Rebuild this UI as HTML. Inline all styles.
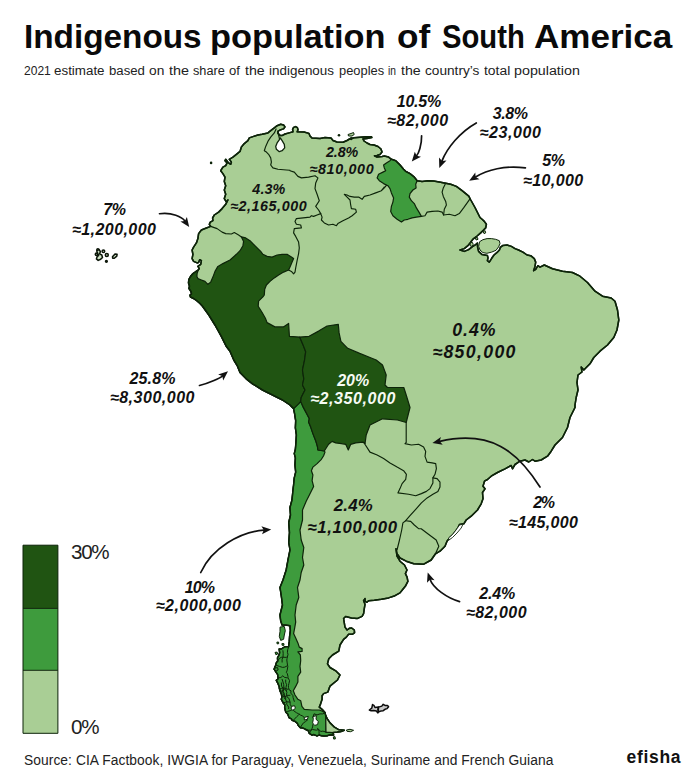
<!DOCTYPE html>
<html lang="en"><head><meta charset="utf-8"><title>Indigenous population of South America</title>
<style>
html,body{margin:0;padding:0;background:#fff}
body{width:700px;height:778px;position:relative;overflow:hidden;font-family:"Liberation Sans",sans-serif;color:#111}
h1{position:absolute;left:0;top:16.5px;margin:0;width:700px;height:40px;font-size:33.5px;line-height:40px;font-weight:700;white-space:nowrap;color:#0a0a0a}
h1 span{position:absolute;top:0;display:block;transform-origin:0 0}
.sub{position:absolute;left:0;top:63.2px;margin:0;width:700px;height:16px;font-size:12.5px;line-height:16px;white-space:nowrap;color:#222}
.sub span{position:absolute;top:0;display:block;transform-origin:0 0}
.src{position:absolute;left:24px;top:751.7px;margin:0;font-size:13.8px;line-height:18px;white-space:nowrap;letter-spacing:0.065px;color:#222}
.brand{position:absolute;left:626.5px;top:747px;margin:0;font-size:17.5px;line-height:20px;font-weight:700;white-space:nowrap;letter-spacing:0.68px;color:#111}
svg{position:absolute;left:0;top:0}
.lb{font-family:"Liberation Sans",sans-serif;font-weight:700;font-style:italic}
.lg{font-family:"Liberation Sans",sans-serif;font-size:20.6px;letter-spacing:-1.3px;fill:#222}
</style></head><body>
<svg width="700" height="778" viewBox="0 0 700 778">
<g id="map">
<polygon points="210.7,226.4 209.3,224.3 210.3,222.1 212.9,220.7 212.6,217.9 214.3,215 218.6,212.1 222.1,208.6 225.7,204.3 227.9,200 226.4,202.1 224.3,198.6 225.7,194.3 224.3,190 225.7,185.7 224.3,181.4 225,177.1 222.9,173.6 220.7,170.7 222.9,167.1 225.7,165.7 227.1,162.9 225,160.7 225.7,159.3 228.6,162.9 230.7,164.3 231.4,162.1 229.3,159.3 232.9,157.1 236.4,154.3 240,151.4 241.4,147.1 244.3,143.6 247.9,140.7 249.3,137.9 253.6,136.4 257.9,135 262.1,134.3 267.9,132.9 270.7,130.7 274.3,127.9 277.1,125.7 280.7,124.3 283.6,125 285,126.9 283.6,128.9 280,130 277.9,131.4 278,133.4 280,135.4 282,135.6 285,134 290,132.6 293,131.8 292.6,129.4 293.6,127.4 295.6,126.6 297.4,127.6 298,129.8 297.2,131.8 304,132 309,133.4 310,136 312,138 320,138.5 325,137.5 331,138 333,140.5 337,142 343,142.2 347,140.5 349.5,139 354,137.8 360,137.2 366,136.7 371.5,136.8 371.8,137.6 367,138.5 363,139 364,141 367,143 370,144.5 374,145 378,146.5 381,149 382,152 380,154.5 377,155.5 374.5,155.8 377,157 382,156.5 384.3,156.1 388.6,157.1 391.4,159.3 391.4,159.3 395.7,160.7 400,165 403.6,169.3 405.7,171.4 410,173.6 414.3,177.1 417.1,180.7 422.1,181.4 427.9,180.7 433.6,181 439.3,181.9 445.7,183.3 450.7,184.3 456.4,186.4 462.1,190.7 468.8,196.2 470.5,199.5 475,207.5 480,217.5 482.1,219.3 484.3,221.4 486.4,224.3 485.7,227.9 483.6,230 480.7,232.9 477.1,236 473.6,238.6 470.7,242.1 467.9,245.7 464.3,248.6 460,250 464.3,251.4 468.6,249.6 472.1,246.9 475.7,244.6 477.4,243.1 477.6,247.1 478.6,251.4 482.1,254.6 487.4,255.4 488,257.9 487.4,260.7 489.3,262.1 491.7,258.3 494,255 497.1,252.4 499.4,250 500.3,247.4 502.9,245.4 507.1,245 511.4,246.4 515,248.6 518.6,250 522.9,252.1 527.1,255 530.7,255.7 534.3,258.6 535.7,262.1 535,266.4 533.6,270.7 535.7,269.3 537.9,265.7 540,267.1 544.3,265 552.5,268.8 562.5,271.2 572.5,272.5 580,276.2 587.5,282.5 595,291.2 602.5,296.2 611.2,298 615,301.2 617.5,310 618.8,320 617,330 613.8,337.5 607.5,345 600,351.2 593.8,357.5 590,363.8 583.8,370 581.2,367 582,372 578,375 577,382.5 578,390 576.2,397.5 575,405 575,407.5 570,417.5 567.5,427.5 562.5,437.5 555,445 551.2,451.2 547.5,456.2 541.2,460 535,461.2 532.5,459.5 528.8,462 525,460 520,461.2 515,464.5 512.5,468.8 511.2,465.5 505,468.8 497.5,472.5 491.2,476.2 487.5,479.5 484.5,481.2 483,486.2 485,488.8 482.5,492.5 483,498.8 481.2,503.8 477.5,510 471.2,516.2 466.2,520 463.8,523.8 459.5,524.5 457.5,528.8 453.8,533.8 449.5,538 447,541.2 445,546.2 440,551.2 435.5,553.8 431.2,560 423.8,564.2 413.8,563.8 406.2,561.2 400,558 397,553.8 396,548.8 397,556.2 400,561.2 404.5,565 407,570 405.4,573.6 407.1,577.1 407.9,581.4 405.7,585.7 402.9,589.3 400,592.9 395,595.7 388.6,597.9 381.4,599.3 374.3,600.3 368.6,600.7 366.9,602.3 365.1,601.4 365,598.6 363.6,600.7 365,604.3 364.3,608.6 363.6,613.6 362.1,616.4 357.1,618.6 351.4,617.9 345.7,616.4 343.6,618.6 344.3,622.9 345,627.1 347.1,630 349.3,628.3 351.7,628 354.3,630 354.6,632.6 352.6,634.3 348.6,634.3 346.4,637.1 343.6,639.3 340,645 338.8,651.2 332.5,655 328.8,658.8 327.5,663.8 330,667.5 336.2,671.2 340,675 337.5,680 330,686.2 329.3,687.9 327.9,692.1 323.6,693.6 322.1,695.7 322.1,699.3 320.7,703.6 319.3,707.1 322.1,709.3 325,712.6 325.7,715.7 327.1,718.6 330,722.9 334.3,727.1 338.6,729.7 344.3,730.3 341.4,731.4 337.1,732.1 332.9,732.6 333.6,735 331.1,734.7 329.5,734.9 327.2,735.8 323.9,735.9 321.5,735.7 319.2,735 317,735.9 313.6,734.5 312,735.1 309.4,733.4 308.4,731 306.3,729.6 302.6,727.9 300.4,727.7 298.3,725.5 297.4,723.4 295.1,721.4 292.1,720.2 291.4,718.9 289,717.6 288.2,715.3 287.9,714.2 285.9,712.2 285.4,710.7 284.7,707.5 284.8,704.7 283.5,703.4 282.2,700.9 281.3,699.3 281.9,697.2 281.4,693.9 280.4,691.6 279.4,688.5 279.2,686.5 277.8,683.1 276.3,680.4 278.2,678.8 277.7,674.6 276.2,672.4 274.1,669.2 275.1,666.5 275.6,665.5 276.5,662.4 277.7,661.4 277.5,657.8 278.7,655.7 279.7,652.8 279.2,649.1 281.3,649.1 284.4,647 285.5,646.7 288.6,646.7 289.3,641.4 289.6,636.4 290.4,630.7 290,625.7 285.7,625 282.1,625 280.7,620.7 280,615 282.5,605 281.2,595 280,587.5 283,580 286.2,570 288,560 290,550 288.8,542.5 289.5,532.5 288.8,522.5 290.5,515 290,507.5 292,500 293,490 293.6,485 294.3,477.9 295.7,472.1 295,465 295.4,457.9 294.3,453.6 295.4,449.3 296,442.1 296.4,435 295.4,427.9 295.7,420.7 294.6,413.6 293.6,408.6 290,405 282.5,400 272.5,395 262.5,390 252.5,383.8 246.2,378.8 240,372.5 237.5,366.2 233.8,360 230,351.2 226.2,346.2 221.2,336.2 215,325 208.8,315 202.5,306.2 200,303.5 196.5,300.5 193.5,298.5 190.5,297 190,295 191.5,294 191,291.5 189,288.5 189.5,286 188.5,283 188.8,279.5 190.5,276.5 193,273.5 196,271.5 197.8,270.4 199.3,268.6 197.9,266.4 200.7,264.3 201.4,260.7 199.7,259.7 198.6,262.6 197.1,262.9 193.6,261.4 192.1,258.6 192.9,254.3 192.1,250 193.6,247.1 196.4,242.9 197.9,238.6 198.6,233.6 201.4,230 205.7,228.3" fill="#a9ce95" stroke="#0d2409" stroke-width="1.5" stroke-linejoin="round" />
<polygon points="293.6,408.6 300.7,401.4 303.6,407.9 307.4,415 309.3,418.6 308.6,422.1 310.7,427.1 312.9,433.6 315.7,440.7 317.4,446.4 317.9,450 324.3,451 325,452.1 323.6,455.7 321.4,459.3 317.1,463.6 312.9,467.1 311.4,470.7 312.9,475 312.1,480.7 313.6,486.4 310,493.8 306.2,501.2 302.5,510 302.5,520 300,530 301.2,540 303.8,547.5 302.5,557.5 303.8,565 301.2,572.5 300,580 297.5,587.5 298.8,597.5 296.2,605 295,615 295.7,622.1 294.7,627.9 293.6,633.6 295.7,637.9 297.9,642.9 299.3,647.1 302.1,648.6 302.1,651.4 297.9,651.9 300.4,655 300.7,660.7 300,666.4 300.7,672.1 297.9,676.4 297.9,682.1 295.7,686.4 293.3,690.7 295,695 297.9,699.3 300.7,700.7 301.9,706.4 304.3,709.3 312.1,710 319.3,710 321.4,710.7 325,712.6 325.7,715.7 326,732.1 332.9,732.6 333.6,735 331.1,734.7 329.5,734.9 327.2,735.8 323.9,735.9 321.5,735.7 319.2,735 317,735.9 313.6,734.5 312,735.1 309.4,733.4 308.4,731 306.3,729.6 302.6,727.9 300.4,727.7 298.3,725.5 297.4,723.4 295.1,721.4 292.1,720.2 291.4,718.9 289,717.6 288.2,715.3 287.9,714.2 285.9,712.2 285.4,710.7 284.7,707.5 284.8,704.7 283.5,703.4 282.2,700.9 281.3,699.3 281.9,697.2 281.4,693.9 280.4,691.6 279.4,688.5 279.2,686.5 277.8,683.1 276.3,680.4 278.2,678.8 277.7,674.6 276.2,672.4 274.1,669.2 275.1,666.5 275.6,665.5 276.5,662.4 277.7,661.4 277.5,657.8 278.7,655.7 279.7,652.8 279.2,649.1 281.3,649.1 284.4,647 285.5,646.7 288.6,646.7 289.3,641.4 289.6,636.4 290.4,630.7 290,625.7 285.7,625 282.1,625 280.7,620.7 280,615 282.5,605 281.2,595 280,587.5 283,580 286.2,570 288,560 290,550 288.8,542.5 289.5,532.5 288.8,522.5 290.5,515 290,507.5 292,500 293,490 293.6,485 294.3,477.9 295.7,472.1 295,465 295.4,457.9 294.3,453.6 295.4,449.3 296,442.1 296.4,435 295.4,427.9 295.7,420.7 294.6,413.6 293.6,408.6" fill="#3e9b3d" stroke="#0d2409" stroke-width="1.2" stroke-linejoin="round" />
<polygon points="325.7,715.7 327.1,718.6 330,722.9 334.3,727.1 338.6,729.7 344.3,730.3 341.4,731.4 337.1,732.1 332.9,732.6 326,732.1" fill="#a9ce95" stroke="#0d2409" stroke-width="1.2" stroke-linejoin="round" />
<polygon points="197.8,270.4 197.9,271.4 197.1,273.6 196.9,276.4 197.9,278.6 201.4,280 205,281.4 207.9,284.3 210.7,282.1 212.9,277.1 215,271.4 217.9,266.4 222.9,263.6 230,260 236.4,254.3 240,250.7 242.9,245.7 243.6,241.4 241.4,236.9 245.7,237.9 250,240.7 253.6,244.3 257.9,248.6 260.7,251.4 262.9,254.3 267.1,256.4 272.1,257.1 277.1,255 282.1,254.3 287.1,254.3 291.4,257.1 293.6,258.6 292.1,262.1 290,267.1 288.6,270 283.6,272.1 278.6,275 274.3,277.9 270,281.4 266.4,285 264.7,289.3 264.3,295 262.9,296.9 258.6,301.1 258.2,306.3 262,312.3 265.4,318.3 267.1,322.6 274.9,326.9 283.4,326.9 288.6,323.4 289.4,336.3 299.7,337.1 299.7,337.1 303.1,344.9 305.7,351.7 304.5,360.3 302.5,370 303.8,378.8 302.5,385 305,390 301.2,397.5 300.7,401.4 298.6,403.9 293.6,408.6 290,405 282.5,400 272.5,395 262.5,390 252.5,383.8 246.2,378.8 240,372.5 237.5,366.2 233.8,360 230,351.2 226.2,346.2 221.2,336.2 215,325 208.8,315 202.5,306.2 200,303.5 196.5,300.5 193.5,298.5 190.5,297 190,295 191.5,294 191,291.5 189,288.5 189.5,286 188.5,283 188.8,279.5 190.5,276.5 193,273.5 196,271.5 197.8,270.4" fill="#205412" stroke="#0d2409" stroke-width="1.2" stroke-linejoin="round" />
<polygon points="299.7,337.1 309.1,336.3 318.6,331.1 327.1,326 338.3,324.3 339.1,332.9 340.9,341.4 347.7,348.3 359.7,353.4 370,357.5 376.2,360 382.5,365 386.2,375 385,385 387.5,387.5 403.8,387.5 406.2,395 410,407.5 406.2,422.5 397.5,420 382.5,418.8 370,425 366.2,435 365,443.6 362.9,442.1 355.7,442.9 350.7,444.3 348.3,450 345.7,444.3 341.4,443.6 335.7,442.9 332.1,441.4 328.6,444.3 324.3,451 317.9,450 317.4,446.4 315.7,440.7 312.9,433.6 310.7,427.1 308.6,422.1 309.3,418.6 307.4,415 303.6,407.9 300.7,401.4 301.2,397.5 305,390 302.5,385 303.8,378.8 302.5,370 304.5,360.3 305.7,351.7 303.1,344.9 299.7,337.1" fill="#205412" stroke="#0d2409" stroke-width="1.2" stroke-linejoin="round" />
<polygon points="391.4,159.3 395.7,160.7 400,165 403.6,169.3 405.7,171.4 410,173.6 414.3,177.1 417.1,180.7 415.7,184.3 416.1,187.9 412.9,190 410,193.6 409.3,197.1 411.4,200.7 414.3,203.6 416.4,207.9 419,212.1 421.4,216.4 416.4,217.1 412.1,217.9 407.9,219.3 404.3,220 401.4,222.1 397.1,219.3 392.9,215.7 390.7,211.4 391.4,206.4 392.9,202.1 393.6,197.9 391.4,192.9 390,188.6 387.9,185.7 383.6,183.6 379.3,180.7 377.1,177.9 378.6,174.3 382.9,172.1 385.7,170.7 384.3,167.9 383.6,165 386.4,162.9 390,160.7" fill="#3e9b3d" stroke="#0d2409" stroke-width="1.2" stroke-linejoin="round" />
<polyline points="210.7,226.4 217.1,228.6 222.1,232.1 225.7,233.6 231.4,234 234.3,232.6 238.6,235 241.4,236.9" fill="none" stroke="#0d2409" stroke-width="1.15" stroke-linejoin="round" stroke-linecap="round"/>
<polyline points="276.1,128.9 274.3,132.9 270.7,137.1 267.9,141.4 265.7,146.4 264.3,150.7 266.4,152.1 268.6,154.3 270.7,157.9 271.4,162.1 270.7,165 272.9,167.9 277.9,169.3 286.4,170 290,170.3 290,170.7 294.3,172.1 297.9,176.4 301.4,177.9 308.6,177.1 315,175.7 317.9,177.9 315.7,182.9 315,188.6 317.1,194.3 319.3,200.7 315.7,206.4 318.6,210 320.7,213.6" fill="none" stroke="#0d2409" stroke-width="1.15" stroke-linejoin="round" stroke-linecap="round"/>
<polyline points="320.7,213.6 317.1,215 313.6,216.4 311.4,215.7 310,217.1 296.4,218.6 295,221.4 296.4,224.3 300.7,225 301.4,227.9 294.3,228.6 293.6,232.9 295.7,236.4 298.6,242.1 299.3,247.9 298.6,253.6 297.1,260.7 295.7,267.9 295,272.1 293.6,273.9 291.4,271.4 288.6,270" fill="none" stroke="#0d2409" stroke-width="1.15" stroke-linejoin="round" stroke-linecap="round"/>
<polyline points="320.7,213.6 322.1,217.1 321.4,220 324.3,222.9 328.6,225 332.9,224.3 336.4,225.7 337.9,223.6 342.9,220.7 348.6,217.9 352.1,215.7 356.4,212.1 355.7,209.3 351.4,208.6 350.7,205 350,200 347.1,197.1 344.3,194.3 347.1,195 350,196.4 354.3,197.1 358.6,197.1 362.1,199.3 364.3,196.4 370,195 375.7,192.9 381.4,190.7 384.3,187.1 382.1,190 384.3,187.9 386.4,185.3" fill="none" stroke="#0d2409" stroke-width="1.15" stroke-linejoin="round" stroke-linecap="round"/>
<polyline points="421.4,216.4 425,215.7 427.1,212.1 432.1,211.4 437.9,211 442.1,212.1 443.6,215 449.3,214.3 455,215.7 459.3,213.6 463.6,207.9 470,198.8" fill="none" stroke="#0d2409" stroke-width="1.15" stroke-linejoin="round" stroke-linecap="round"/>
<polyline points="445.7,183.3 443.3,187.9 442.1,192.1 443.3,196.4 445.7,201.4 446.4,205 444.3,209.3 443.6,215" fill="none" stroke="#0d2409" stroke-width="1.15" stroke-linejoin="round" stroke-linecap="round"/>
<polyline points="406.2,422.5 406.2,435 406.2,442.5 405,443.6 411.4,445 418.6,444.3 423.6,447.1 425.7,451.4 425,456.4 427.1,462.1 432.1,462.9 435.7,463.6 436.4,468.6 435,474.3 432.9,477.9 432.9,482.9 430,488.6 426.4,491.4 421.4,493.6 415.7,495.7 408.6,494.3 397.9,492.9 400,488.6 402.1,483.6 405.7,479.3 406.4,474.3 403.6,470.7 397.1,467.1 390,462.9 383.6,458.6 377.1,455 370,452.1 363.8,442.5 365,443.6" fill="none" stroke="#0d2409" stroke-width="1.15" stroke-linejoin="round" stroke-linecap="round"/>
<polyline points="432.9,477.9 437.1,478.6 440,482.1 440,487.1 437.9,491.4 432.9,494.3 427.1,497.9 421.4,502.9 415.7,509.3 410,515.7 405.7,520.7 402.9,522.9 401.7,530 399.5,540 397,550" fill="none" stroke="#0d2409" stroke-width="1.15" stroke-linejoin="round" stroke-linecap="round"/>
<polyline points="405.7,520.7 410.7,521.4 414.3,525 418.6,528.6 421.2,528.8 428.8,534.5 436.2,540 438.8,546.2 435.5,553.8" fill="none" stroke="#0d2409" stroke-width="1.15" stroke-linejoin="round" stroke-linecap="round"/>
<polygon id="coast_top" points="210.7,226.4 209.3,224.3 210.3,222.1 212.9,220.7 212.6,217.9 214.3,215 218.6,212.1 222.1,208.6 225.7,204.3 227.9,200 226.4,202.1 224.3,198.6 225.7,194.3 224.3,190 225.7,185.7 224.3,181.4 225,177.1 222.9,173.6 220.7,170.7 222.9,167.1 225.7,165.7 227.1,162.9 225,160.7 225.7,159.3 228.6,162.9 230.7,164.3 231.4,162.1 229.3,159.3 232.9,157.1 236.4,154.3 240,151.4 241.4,147.1 244.3,143.6 247.9,140.7 249.3,137.9 253.6,136.4 257.9,135 262.1,134.3 267.9,132.9 270.7,130.7 274.3,127.9 277.1,125.7 280.7,124.3 283.6,125 285,126.9 283.6,128.9 280,130 277.9,131.4 278,133.4 280,135.4 282,135.6 285,134 290,132.6 293,131.8 292.6,129.4 293.6,127.4 295.6,126.6 297.4,127.6 298,129.8 297.2,131.8 304,132 309,133.4 310,136 312,138 320,138.5 325,137.5 331,138 333,140.5 337,142 343,142.2 347,140.5 349.5,139 354,137.8 360,137.2 366,136.7 371.5,136.8 371.8,137.6 367,138.5 363,139 364,141 367,143 370,144.5 374,145 378,146.5 381,149 382,152 380,154.5 377,155.5 374.5,155.8 377,157 382,156.5 384.3,156.1 388.6,157.1 391.4,159.3 391.4,159.3 395.7,160.7 400,165 403.6,169.3 405.7,171.4 410,173.6 414.3,177.1 417.1,180.7 422.1,181.4 427.9,180.7 433.6,181 439.3,181.9 445.7,183.3 450.7,184.3 456.4,186.4 462.1,190.7 468.8,196.2 470.5,199.5 475,207.5 480,217.5 482.1,219.3 484.3,221.4 486.4,224.3 485.7,227.9 483.6,230 480.7,232.9 477.1,236 473.6,238.6 470.7,242.1 467.9,245.7 464.3,248.6 460,250 464.3,251.4 468.6,249.6 472.1,246.9 475.7,244.6 477.4,243.1 477.6,247.1 478.6,251.4 482.1,254.6 487.4,255.4 488,257.9 487.4,260.7 489.3,262.1 491.7,258.3 494,255 497.1,252.4 499.4,250 500.3,247.4 502.9,245.4 507.1,245 511.4,246.4 515,248.6 518.6,250 522.9,252.1 527.1,255 530.7,255.7 534.3,258.6 535.7,262.1 535,266.4 533.6,270.7 535.7,269.3 537.9,265.7 540,267.1 544.3,265 552.5,268.8 562.5,271.2 572.5,272.5 580,276.2 587.5,282.5 595,291.2 602.5,296.2 611.2,298 615,301.2 617.5,310 618.8,320 617,330 613.8,337.5 607.5,345 600,351.2 593.8,357.5 590,363.8 583.8,370 581.2,367 582,372 578,375 577,382.5 578,390 576.2,397.5 575,405 575,407.5 570,417.5 567.5,427.5 562.5,437.5 555,445 551.2,451.2 547.5,456.2 541.2,460 535,461.2 532.5,459.5 528.8,462 525,460 520,461.2 515,464.5 512.5,468.8 511.2,465.5 505,468.8 497.5,472.5 491.2,476.2 487.5,479.5 484.5,481.2 483,486.2 485,488.8 482.5,492.5 483,498.8 481.2,503.8 477.5,510 471.2,516.2 466.2,520 463.8,523.8 459.5,524.5 457.5,528.8 453.8,533.8 449.5,538 447,541.2 445,546.2 440,551.2 435.5,553.8 431.2,560 423.8,564.2 413.8,563.8 406.2,561.2 400,558 397,553.8 396,548.8 397,556.2 400,561.2 404.5,565 407,570 405.4,573.6 407.1,577.1 407.9,581.4 405.7,585.7 402.9,589.3 400,592.9 395,595.7 388.6,597.9 381.4,599.3 374.3,600.3 368.6,600.7 366.9,602.3 365.1,601.4 365,598.6 363.6,600.7 365,604.3 364.3,608.6 363.6,613.6 362.1,616.4 357.1,618.6 351.4,617.9 345.7,616.4 343.6,618.6 344.3,622.9 345,627.1 347.1,630 349.3,628.3 351.7,628 354.3,630 354.6,632.6 352.6,634.3 348.6,634.3 346.4,637.1 343.6,639.3 340,645 338.8,651.2 332.5,655 328.8,658.8 327.5,663.8 330,667.5 336.2,671.2 340,675 337.5,680 330,686.2 329.3,687.9 327.9,692.1 323.6,693.6 322.1,695.7 322.1,699.3 320.7,703.6 319.3,707.1 322.1,709.3 325,712.6 325.7,715.7 327.1,718.6 330,722.9 334.3,727.1 338.6,729.7 344.3,730.3 341.4,731.4 337.1,732.1 332.9,732.6 333.6,735 331.1,734.7 329.5,734.9 327.2,735.8 323.9,735.9 321.5,735.7 319.2,735 317,735.9 313.6,734.5 312,735.1 309.4,733.4 308.4,731 306.3,729.6 302.6,727.9 300.4,727.7 298.3,725.5 297.4,723.4 295.1,721.4 292.1,720.2 291.4,718.9 289,717.6 288.2,715.3 287.9,714.2 285.9,712.2 285.4,710.7 284.7,707.5 284.8,704.7 283.5,703.4 282.2,700.9 281.3,699.3 281.9,697.2 281.4,693.9 280.4,691.6 279.4,688.5 279.2,686.5 277.8,683.1 276.3,680.4 278.2,678.8 277.7,674.6 276.2,672.4 274.1,669.2 275.1,666.5 275.6,665.5 276.5,662.4 277.7,661.4 277.5,657.8 278.7,655.7 279.7,652.8 279.2,649.1 281.3,649.1 284.4,647 285.5,646.7 288.6,646.7 289.3,641.4 289.6,636.4 290.4,630.7 290,625.7 285.7,625 282.1,625 280.7,620.7 280,615 282.5,605 281.2,595 280,587.5 283,580 286.2,570 288,560 290,550 288.8,542.5 289.5,532.5 288.8,522.5 290.5,515 290,507.5 292,500 293,490 293.6,485 294.3,477.9 295.7,472.1 295,465 295.4,457.9 294.3,453.6 295.4,449.3 296,442.1 296.4,435 295.4,427.9 295.7,420.7 294.6,413.6 293.6,408.6 290,405 282.5,400 272.5,395 262.5,390 252.5,383.8 246.2,378.8 240,372.5 237.5,366.2 233.8,360 230,351.2 226.2,346.2 221.2,336.2 215,325 208.8,315 202.5,306.2 200,303.5 196.5,300.5 193.5,298.5 190.5,297 190,295 191.5,294 191,291.5 189,288.5 189.5,286 188.5,283 188.8,279.5 190.5,276.5 193,273.5 196,271.5 197.8,270.4 199.3,268.6 197.9,266.4 200.7,264.3 201.4,260.7 199.7,259.7 198.6,262.6 197.1,262.9 193.6,261.4 192.1,258.6 192.9,254.3 192.1,250 193.6,247.1 196.4,242.9 197.9,238.6 198.6,233.6 201.4,230 205.7,228.3" fill="none" stroke="#0d2409" stroke-width="1.5" stroke-linejoin="round"/>
<polygon points="279.6,139.3 277.1,142.9 275.7,146.4 276.4,149.3 279.3,151.7 282.1,150.7 284.7,147.9 284.3,144.3 282.1,140.7 280.3,137.9" fill="#fff" stroke="#0d2409" stroke-width="1.3" stroke-linejoin="round" />
<polyline points="277.9,131.4 278.6,135 279.6,139.3" fill="none" stroke="#0d2409" stroke-width="1.15" stroke-linejoin="round" stroke-linecap="round"/>
<polygon points="459.5,525 463,524.2 461.2,528 457,533 452.5,537.5 449,540 448.5,538 452.5,534.5 456,530" fill="#fff" stroke="#0d2409" stroke-width="0.9" stroke-linejoin="round" />
<polygon points="280,627.1 284.3,626.4 285.3,630.7 284.3,635 283.6,639.3 280.7,640.4 279.3,636.4 280,631.4" fill="#3e9b3d" stroke="#0d2409" stroke-width="1.0" stroke-linejoin="round" />
<polygon points="275,667.9 277.6,667.6 278.1,670 276.1,671 274.7,669.9" fill="#3e9b3d" stroke="#0d2409" stroke-width="1.0" stroke-linejoin="round" />
<polygon points="275,652.4 277.1,652.1 277.6,654.1 275.9,654.7" fill="#3e9b3d" stroke="#0d2409" stroke-width="1.0" stroke-linejoin="round" />
<polygon points="276.9,642.1 278.6,642.1 278.7,643.7 277.1,643.9" fill="#3e9b3d" stroke="#0d2409" stroke-width="1.0" stroke-linejoin="round" />
<polygon points="281.9,643.6 283.9,643.6 284,645.3 282.1,645.3" fill="#3e9b3d" stroke="#0d2409" stroke-width="1.0" stroke-linejoin="round" />
<polygon points="333.3,736.9 335,736.6 335.4,738.9 333.7,739.1" fill="#3e9b3d" stroke="#0d2409" stroke-width="1.0" stroke-linejoin="round" />
<polygon points="346.4,730 350,729.3 353.6,730.3 350.7,731.7 347.1,731.4" fill="#a9ce95" stroke="#0d2409" stroke-width="1.0" stroke-linejoin="round" />
<polygon points="479.6,241.7 482.9,239.7 487.1,238.6 491.4,238.6 495.7,239.3 499.3,240.7 500,243.6 498.6,246.9 496,250.3 491.7,252.1 486.9,253.3 482.9,252.6 480,250 478.6,246.4" fill="#a9ce95" stroke="#0d2409" stroke-width="1.0" stroke-linejoin="round" />
<polygon points="470.3,243.1 472.1,242.1 473.3,244.3 471.7,246.4 470,245.7" fill="#a9ce95" stroke="#0d2409" stroke-width="1.0" stroke-linejoin="round" />
<polygon points="475.4,237.9 477.4,237.4 478,239.3 476.1,240" fill="#a9ce95" stroke="#0d2409" stroke-width="1.0" stroke-linejoin="round" />
<polygon points="483.1,231.4 485.1,230.7 485.7,232.9 484,233.6" fill="#a9ce95" stroke="#0d2409" stroke-width="1.0" stroke-linejoin="round" />
<polygon points="348,134.5 351,133.5 353.5,132.5 354.2,134.5 352,136 348.5,136" fill="#a9ce95" stroke="#0d2409" stroke-width="1.0" stroke-linejoin="round" />
<polyline points="288.6,647.1 287.7,649.7 287.4,652.3 288,654.3 287.1,658.4 286.8,660 287.2,662.9 287.5,665 287.8,666.5 287.2,670.2 286.4,672.5 287.3,673.6 288,676.5 288,677.8 289.6,680.7 288.9,683.5 288.4,685.7 288.5,687.6 289.2,690 291,690.8 290.8,693.1 292.9,695.6 293.1,697.6 294.3,701.4" fill="none" stroke="#0d2409" stroke-width="1.0" stroke-linejoin="round" stroke-linecap="round"/>
<polyline points="277.9,660.7 279.2,658.7 281.2,657.3 282.8,657.2 286.2,657.4 287.6,656.4" fill="none" stroke="#0d2409" stroke-width="1.0" stroke-linejoin="round" stroke-linecap="round"/>
<polyline points="276.4,665.3 279.4,666.4 282.6,667.4 284.8,667.1 286.7,666.1" fill="none" stroke="#0d2409" stroke-width="1.0" stroke-linejoin="round" stroke-linecap="round"/>
<polyline points="277.9,677.9 280.9,677.5 282.9,675.7 284.3,677.3 287.3,677.9" fill="none" stroke="#0d2409" stroke-width="1.0" stroke-linejoin="round" stroke-linecap="round"/>
<polyline points="279.3,689.3 281.2,688.4 283.8,687.9 285.8,688.7 287.9,689.3" fill="none" stroke="#0d2409" stroke-width="1.0" stroke-linejoin="round" stroke-linecap="round"/>
<polyline points="281.4,695 283.1,696.4 285.1,696.7 287.2,695.4 290,695.3" fill="none" stroke="#0d2409" stroke-width="1.0" stroke-linejoin="round" stroke-linecap="round"/>
<polyline points="282.9,650.7 283.2,653.3 283,657 282.1,659.3 282.1,662.1" fill="none" stroke="#0d2409" stroke-width="1.0" stroke-linejoin="round" stroke-linecap="round"/>
<polyline points="282.1,679.3 283,682 283.7,684.5 283.9,687.9 283.4,689.2 282.9,691.8 283.4,695.2 285.6,696.2 285.7,699.3" fill="none" stroke="#0d2409" stroke-width="1.0" stroke-linejoin="round" stroke-linecap="round"/>
<polyline points="285.7,680 285.7,682.5 286.6,684.7 286,687.2 285.9,689.5 286.9,692.4 286.5,694 287.2,697.2 288.9,698.3 290.1,702.1 290.2,703.5 290.2,704.4 291.4,706.4 292.4,708.5 293.5,710.6 296.4,712.7 298.6,713.8 300.5,715.1 302.3,715.8 305.1,718.2 307.4,719.7" fill="none" stroke="#0d2409" stroke-width="1.0" stroke-linejoin="round" stroke-linecap="round"/>
<polyline points="280,691.4 282.1,691 284.6,689.4 286.4,690.7" fill="none" stroke="#0d2409" stroke-width="1.0" stroke-linejoin="round" stroke-linecap="round"/>
<polyline points="283.6,702.9 286.7,701.7 289.7,702.1" fill="none" stroke="#0d2409" stroke-width="1.0" stroke-linejoin="round" stroke-linecap="round"/>
<polyline points="286.4,712.1 287.6,711.4 290.2,710.7 292.9,709.3" fill="none" stroke="#0d2409" stroke-width="1.0" stroke-linejoin="round" stroke-linecap="round"/>
<polyline points="292.9,720.7 295.4,718.1 296.8,716.6 298.6,714.9 299.3,714.3" fill="none" stroke="#0d2409" stroke-width="1.0" stroke-linejoin="round" stroke-linecap="round"/>
<polyline points="300.7,727.1 301.9,725 303.5,722.8 305.4,721.7 307.4,720" fill="none" stroke="#0d2409" stroke-width="1.0" stroke-linejoin="round" stroke-linecap="round"/>
<polyline points="309.3,733.6 310.4,731.6 312.1,728.3 312.6,726.9 312.9,724.6" fill="none" stroke="#0d2409" stroke-width="1.0" stroke-linejoin="round" stroke-linecap="round"/>
<polyline points="320,735.7 319.1,733.8 319,730.9 317.6,728.3" fill="none" stroke="#0d2409" stroke-width="1.0" stroke-linejoin="round" stroke-linecap="round"/>
<polyline points="325,712.9 322.8,713.9 320,713.9 317,714.9 314,713.8 312.9,717.4" fill="none" stroke="#0d2409" stroke-width="1.0" stroke-linejoin="round" stroke-linecap="round"/>
<polyline points="305.7,730 308.7,730.1 310.9,730.2 312.5,729.5 316.4,730.2 318.7,729.5 320.9,731.5 322.9,731.1 326,732.1" fill="none" stroke="#0d2409" stroke-width="1.0" stroke-linejoin="round" stroke-linecap="round"/>
<polyline points="281.4,682.9 281.6,686.1 283.1,688.6 282.9,691.4 284.3,693.4 284.3,695.3 284.2,697.9 285.8,699.8 286.9,702.5 286.7,704.1 288.7,707.1 288.6,708.6" fill="none" stroke="#0d2409" stroke-width="1.0" stroke-linejoin="round" stroke-linecap="round"/>
<polygon points="369.3,710 371.8,708.2 372.5,704.6 373.9,705.4 375,707.5 378.6,707.1 377.9,709.3 378.6,711.4 377.9,712.9 376.4,711.1 373.6,710.4 371.1,710.7" fill="#c9c9c9" stroke="#0a0a0a" stroke-width="1.5" stroke-linejoin="round" />
<polygon points="378.6,707.1 381.8,706.1 383.2,704.3 385,705.4 387.5,705.4 388.6,706.8 387.1,708.6 385,709.3 383.2,710.7 380.7,711.1 378.9,711.8 378.2,710.4" fill="#c9c9c9" stroke="#0a0a0a" stroke-width="1.5" stroke-linejoin="round" />
<polygon points="312.9,716.6 316.4,715.7 316,719.3 318.3,721.4 317.6,724.6 314.6,725.4 312.6,722.9 313.3,719.3" fill="#fff" stroke="#0d2409" stroke-width="1.0" stroke-linejoin="round" />
<polygon points="291.4,706.4 294.6,705.7 295.4,708.3 292.9,710.3 291.1,709" fill="#fff" stroke="#0d2409" stroke-width="1.0" stroke-linejoin="round" />
<polygon points="304.3,717.4 308.3,716.4 307.4,719.3 304.3,720" fill="#fff" stroke="#0d2409" stroke-width="1.0" stroke-linejoin="round" />
<polyline points="363,138 367,137.6 371.5,137.2" fill="none" stroke="#0d2409" stroke-width="1.2" stroke-linejoin="round" stroke-linecap="round"/>
<circle cx="211.1" cy="162.9" r="1.3" fill="#0d2409"/>
<circle cx="339.0" cy="135.3" r="1.3" fill="#0d2409"/>
<circle cx="351.2" cy="138.6" r="1.6" fill="#0d2409"/>
<circle cx="97.9" cy="249.8" r="1.1" fill="#cfe3c6" stroke="#0a1407" stroke-width="1.5"/>
<circle cx="96.5" cy="254.3" r="1.2" fill="#cfe3c6" stroke="#0a1407" stroke-width="1.5"/>
<circle cx="103.4" cy="251.3" r="1.3" fill="#cfe3c6" stroke="#0a1407" stroke-width="1.5"/>
<circle cx="106.8" cy="255" r="1.5" fill="#cfe3c6" stroke="#0a1407" stroke-width="1.5"/>
<circle cx="106.4" cy="261.3" r="0.9" fill="#cfe3c6" stroke="#0a1407" stroke-width="1.5"/>
<polygon points="96.8,250.7 98.9,249.6 100.4,251.4 99.6,253.9 101.8,255 102.5,257.5 100.7,259.3 98.2,260.4 96.4,258.9 97.1,256.8 98.6,255.4 97.5,253.2" fill="#cfe3c6" stroke="#0a1407" stroke-width="1.5" stroke-linejoin="round" />
<polygon points="112.5,256.8 115,253.9 117.1,254.3 116.8,256.1 114.3,258.2 112.7,258.2" fill="#cfe3c6" stroke="#0a1407" stroke-width="1.5" stroke-linejoin="round" />
</g>
<g id="legend">
<rect x="23" y="545.2" width="34.9" height="63.2" fill="#205412"/>
<rect x="23" y="608.4" width="34.9" height="61.9" fill="#3e9b3d"/>
<rect x="23" y="670.3" width="34.9" height="63" fill="#a9ce95"/>
<path d="M23,545.2h34.9v188.1h-34.9zM23,608.4h34.9M23,670.3h34.9" fill="none" stroke="#0d2409" stroke-width="1"/>
<text x="71" y="559.4" class="lg">30%</text>
<text x="71" y="733.8" class="lg">0%</text>
</g>
<g id="arrows">
<path d="M421.6,135.8 C421.8,145 418.5,153.5 416.6,155.8" fill="none" stroke="#111" stroke-width="1.7" stroke-linecap="round"/><path d="M411.8,161.6 L414.8,151.7 L416.6,155.8 L421.0,156.8 Z" fill="#111"/>
<path d="M476.3,122.9 C460,132 447,148 442.0,160.9" fill="none" stroke="#111" stroke-width="1.7" stroke-linecap="round"/><path d="M439.3,167.9 L439.0,157.5 L442.0,160.9 L446.5,160.4 Z" fill="#111"/>
<path d="M525.4,167.9 C505,165 487,170 475.6,176.9" fill="none" stroke="#111" stroke-width="1.7" stroke-linecap="round"/><path d="M469.2,180.8 L475.3,172.4 L475.6,176.9 L479.5,179.2 Z" fill="#111"/>
<path d="M159.5,213.75 C172,212 182,217 184.9,220.9" fill="none" stroke="#111" stroke-width="1.7" stroke-linecap="round"/><path d="M189.2,227.0 L180.4,221.6 L184.9,220.9 L186.9,216.9 Z" fill="#111"/>
<path d="M199.5,385.5 C210,383 220,378 222.3,376.1" fill="none" stroke="#111" stroke-width="1.7" stroke-linecap="round"/><path d="M228.0,371.2 L223.2,380.5 L222.3,376.1 L218.1,374.4 Z" fill="#111"/>
<path d="M540,487 C517.5,451.5 491,429.5 439.7,441.3" fill="none" stroke="#111" stroke-width="1.7" stroke-linecap="round"/><path d="M432.4,443.0 L440.9,436.9 L439.7,441.3 L442.7,444.7 Z" fill="#111"/>
<path d="M200.75,572.5 C212,548 240,532 263.8,530.1" fill="none" stroke="#111" stroke-width="1.7" stroke-linecap="round"/><path d="M271.2,529.5 L262.0,534.3 L263.8,530.1 L261.4,526.3 Z" fill="#111"/>
<path d="M459.6,601.6 C447,598 433,588 430.1,579.5" fill="none" stroke="#111" stroke-width="1.7" stroke-linecap="round"/><path d="M427.7,572.4 L434.6,580.2 L430.1,579.5 L427.0,582.8 Z" fill="#111"/>
</g>
<g id="labels">
<text x="396.75" y="106.80" font-size="16" fill="#111" class="lb" letter-spacing="-0.250">10.5%</text>
<text x="387.00" y="125.70" font-size="16" fill="#111" class="lb" letter-spacing="0.583">≈82,000</text>
<text x="492.75" y="118.60" font-size="16" fill="#111" class="lb" letter-spacing="-0.417">3.8%</text>
<text x="479.50" y="137.70" font-size="16" fill="#111" class="lb" letter-spacing="0.625">≈23,000</text>
<text x="542.15" y="166.30" font-size="16" fill="#111" class="lb" letter-spacing="-0.200">5%</text>
<text x="523.10" y="185.50" font-size="16" fill="#111" class="lb" letter-spacing="0.400">≈10,000</text>
<text x="325.95" y="156.90" font-size="14.3" fill="#111" class="lb" letter-spacing="-0.100">2.8%</text>
<text x="309.50" y="174.00" font-size="14.3" fill="#111" class="lb" letter-spacing="0.657">≈810,000</text>
<text x="252.35" y="193.90" font-size="14.3" fill="#111" class="lb" letter-spacing="0.133">4.3%</text>
<text x="230.20" y="210.70" font-size="14.3" fill="#111" class="lb" letter-spacing="0.550">≈2,165,000</text>
<text x="103.25" y="215.20" font-size="16" fill="#111" class="lb" letter-spacing="-0.500">7%</text>
<text x="72.00" y="234.50" font-size="16" fill="#111" class="lb" letter-spacing="0.444">≈1,200,000</text>
<text x="452.15" y="335.70" font-size="17.7" fill="#111" class="lb" letter-spacing="1.033">0.4%</text>
<text x="432.40" y="357.90" font-size="17.7" fill="#111" class="lb" letter-spacing="1.343">≈850,000</text>
<text x="337.35" y="385.90" font-size="16" fill="#f6fbf4" class="lb" letter-spacing="-0.125">20%</text>
<text x="310.20" y="404.40" font-size="16" fill="#f6fbf4" class="lb" letter-spacing="0.594">≈2,350,000</text>
<text x="129.55" y="383.90" font-size="16" fill="#111" class="lb" letter-spacing="0.112">25.8%</text>
<text x="109.90" y="402.70" font-size="16" fill="#111" class="lb" letter-spacing="0.517">≈8,300,000</text>
<text x="533.15" y="507.60" font-size="16" fill="#111" class="lb" letter-spacing="-1.300">2%</text>
<text x="508.80" y="527.50" font-size="16" fill="#111" class="lb" letter-spacing="0.371">≈145,000</text>
<text x="333.85" y="511.10" font-size="16.8" fill="#111" class="lb" letter-spacing="0.167">2.4%</text>
<text x="307.40" y="532.60" font-size="16.8" fill="#111" class="lb" letter-spacing="0.639">≈1,100,000</text>
<text x="184.75" y="593.00" font-size="16" fill="#111" class="lb" letter-spacing="-0.875">10%</text>
<text x="155.75" y="610.75" font-size="16" fill="#111" class="lb" letter-spacing="0.583">≈2,000,000</text>
<text x="479.25" y="598.90" font-size="16" fill="#111" class="lb" letter-spacing="-0.183">2.4%</text>
<text x="465.90" y="618.30" font-size="16" fill="#111" class="lb" letter-spacing="0.500">≈82,000</text>
</g>
</svg>
<h1><span style="left:23.51px;transform:scaleX(0.9943)">Indigenous</span> <span style="left:210.45px;transform:scaleX(1.0254)">population</span> <span style="left:396.95px;transform:scaleX(1.0484)">of</span> <span style="left:442.13px;transform:scaleX(0.8723)">South</span> <span style="left:534.45px;transform:scaleX(1.0458)">America</span></h1>
<p class="sub"><span style="left:23.77px;transform:scaleX(0.9626)">2021</span> <span style="left:54.46px;transform:scaleX(1.0703)">estimate</span> <span style="left:109.21px;transform:scaleX(1.0538)">based</span> <span style="left:149.45px;transform:scaleX(1.1)">on</span> <span style="left:168.96px;transform:scaleX(1.1515)">the</span> <span style="left:193.24px;transform:scaleX(1.0165)">share</span> <span style="left:229.48px;transform:scaleX(1.05)">of</span> <span style="left:245.47px;transform:scaleX(1.1364)">the</span> <span style="left:269.19px;transform:scaleX(1.0759)">indigenous</span> <span style="left:338.73px;transform:scaleX(1.0294)">peoples</span> <span style="left:388.14px;transform:scaleX(0.8182)">in</span> <span style="left:400.97px;transform:scaleX(1.1364)">the</span> <span style="left:424.95px;transform:scaleX(1.0923)">country’s</span> <span style="left:483.97px;transform:scaleX(1.1111)">total</span> <span style="left:513.64px;transform:scaleX(1.1422)">population</span></p>
<p class="src">Source: CIA Factbook, IWGIA for Paraguay, Venezuela, Suriname and French Guiana</p>
<p class="brand">efisha</p>
</body></html>
